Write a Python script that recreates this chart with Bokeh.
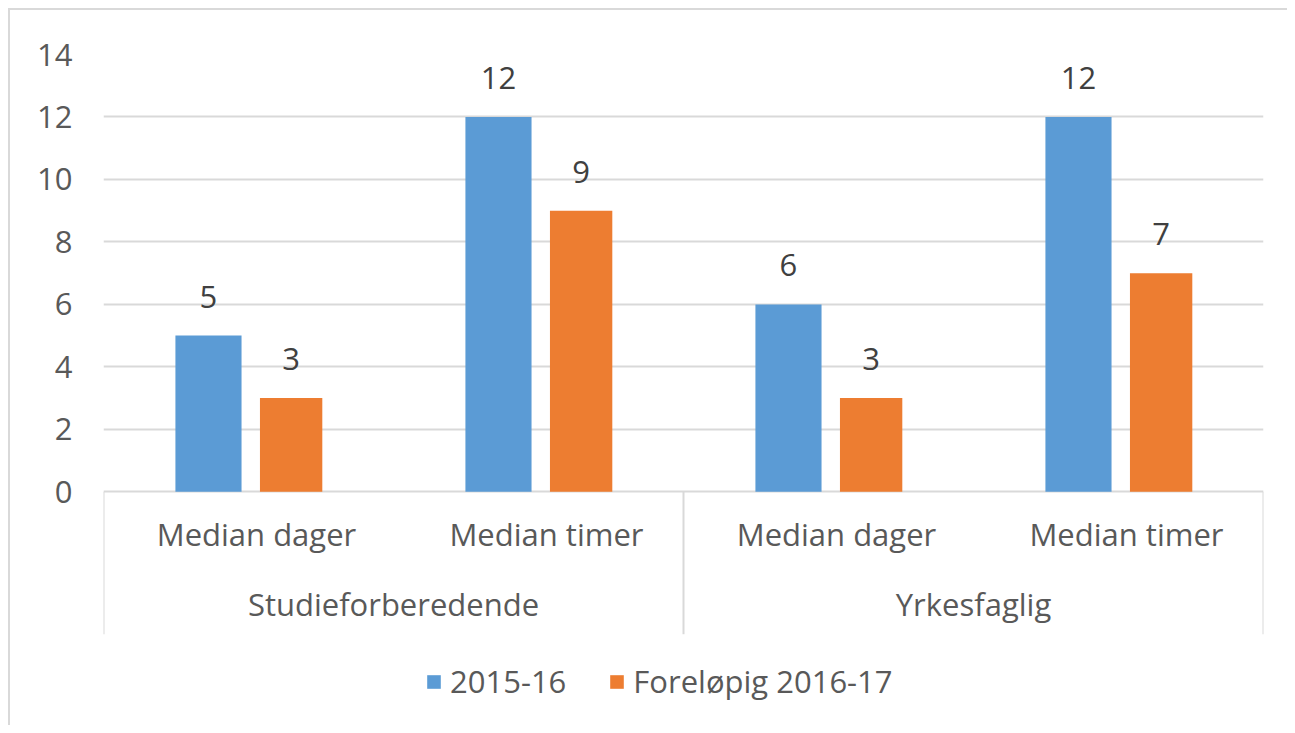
from bokeh.plotting import figure
from bokeh.models import ColumnDataSource, FactorRange, FixedTicker, Range1d, Legend, LegendItem
from bokeh.transform import dodge
from bokeh.core.properties import value
from bokeh.embed import file_html
from bokeh.resources import INLINE

groups = ["Studieforberedende", "Yrkesfaglig"]
measures = ["Median dager", "Median timer"]
series_names = ["2015-16", "Foreløpig 2016-17"]
values_2015 = [5, 12, 6, 12]
values_2016 = [3, 9, 3, 7]
y_ticks = [0, 2, 4, 6, 8, 10, 12, 14]

factors = [(g, m) for g in groups for m in measures]

FONT = "Open Sans"
FS = "31px"
GRID = "#d9d9d9"
TXT = "#595959"
BLUE = "#5B9BD5"
ORANGE = "#ED7D31"

x_range = FactorRange(*factors, group_padding=0, factor_padding=0, range_padding=0)
p = figure(width=1279, height=717, x_range=x_range, y_range=Range1d(-7.546, 14),
           output_backend="svg", toolbar_location=None,
           min_border_left=93, min_border_right=26, min_border_top=44, min_border_bottom=0)
p.outline_line_color = None
p.background_fill_color = "white"
p.border_fill_color = "white"
p.styles = {"border-top": "2px solid #d9d9d9", "border-left": "2px solid #d9d9d9",
            "margin-left": "8px", "margin-top": "8px"}

p.xaxis.visible = False
p.xgrid.visible = False
p.yaxis.ticker = FixedTicker(ticks=y_ticks)
p.ygrid.ticker = FixedTicker(ticks=y_ticks)
p.ygrid.grid_line_color = GRID
p.ygrid.grid_line_width = 2
p.yaxis.axis_line_color = None
p.yaxis.major_tick_line_color = None
p.yaxis.minor_tick_line_color = None
p.yaxis.major_tick_out = 0
p.yaxis.major_tick_in = 0
p.yaxis.major_label_standoff = 31
p.yaxis.major_label_text_font = FONT
p.yaxis.major_label_text_font_size = FS
p.yaxis.major_label_text_color = TXT

src = ColumnDataSource(dict(x=factors, a=values_2015, b=values_2016,
                            a_lbl=[str(v) for v in values_2015],
                            b_lbl=[str(v) for v in values_2016]))

r1 = p.vbar(x=dodge("x", -0.138, range=p.x_range), top="a", bottom=0, width=0.228,
            source=src, fill_color=BLUE, line_color=None)
r2 = p.vbar(x=dodge("x", 0.147, range=p.x_range), top="b", bottom=0, width=0.215,
            source=src, fill_color=ORANGE, line_color=None)

p.text(x=dodge("x", -0.138, range=p.x_range), y="a", text="a_lbl", source=src,
       text_align="center", text_baseline="alphabetic", y_offset=-39,
       text_font=value(FONT), text_font_size=FS, text_color="#404040")
p.text(x=dodge("x", 0.147, range=p.x_range), y="b", text="b_lbl", source=src,
       text_align="center", text_baseline="alphabetic", y_offset=-39,
       text_font=value(FONT), text_font_size=FS, text_color="#404040")

# category labels (two levels)
cat_src = ColumnDataSource(dict(x=factors, y=[0] * len(factors), t=[m for g, m in factors]))
p.text(x="x", y="y", text="t", source=cat_src, text_align="center", text_baseline="alphabetic",
       x_offset=8, y_offset=42, text_font=value(FONT), text_font_size=FS, text_color=TXT)
grp_src = ColumnDataSource(dict(x=groups, y=[0] * len(groups), t=groups))
p.text(x="x", y="y", text="t", source=grp_src, text_align="center", text_baseline="alphabetic",
       y_offset=112, text_font=value(FONT), text_font_size=FS, text_color=TXT)

# group separators
sep_x = [(groups[0], measures[0], -0.5), (groups[1], measures[0], -0.5), (groups[1], measures[1], 0.5)]
sep_src = ColumnDataSource(dict(x=sep_x, y0=[0] * 3, y1=[-4.56] * 3))
p.segment(x0="x", y0="y0", x1="x", y1="y1", source=sep_src, line_color=GRID, line_width=2)

legend = Legend(items=[LegendItem(label=series_names[0], renderers=[r1]),
                       LegendItem(label=series_names[1], renderers=[r2])],
                orientation="horizontal", location=(322, 25),
                label_text_font=FONT, label_text_font_size=FS, label_text_color=TXT,
                glyph_width=17, glyph_height=17, label_standoff=8, spacing=42,
                padding=0, margin=0, border_line_color=None, background_fill_alpha=0)
p.add_layout(legend)

open("out.html", "w").write(file_html(p, INLINE))
